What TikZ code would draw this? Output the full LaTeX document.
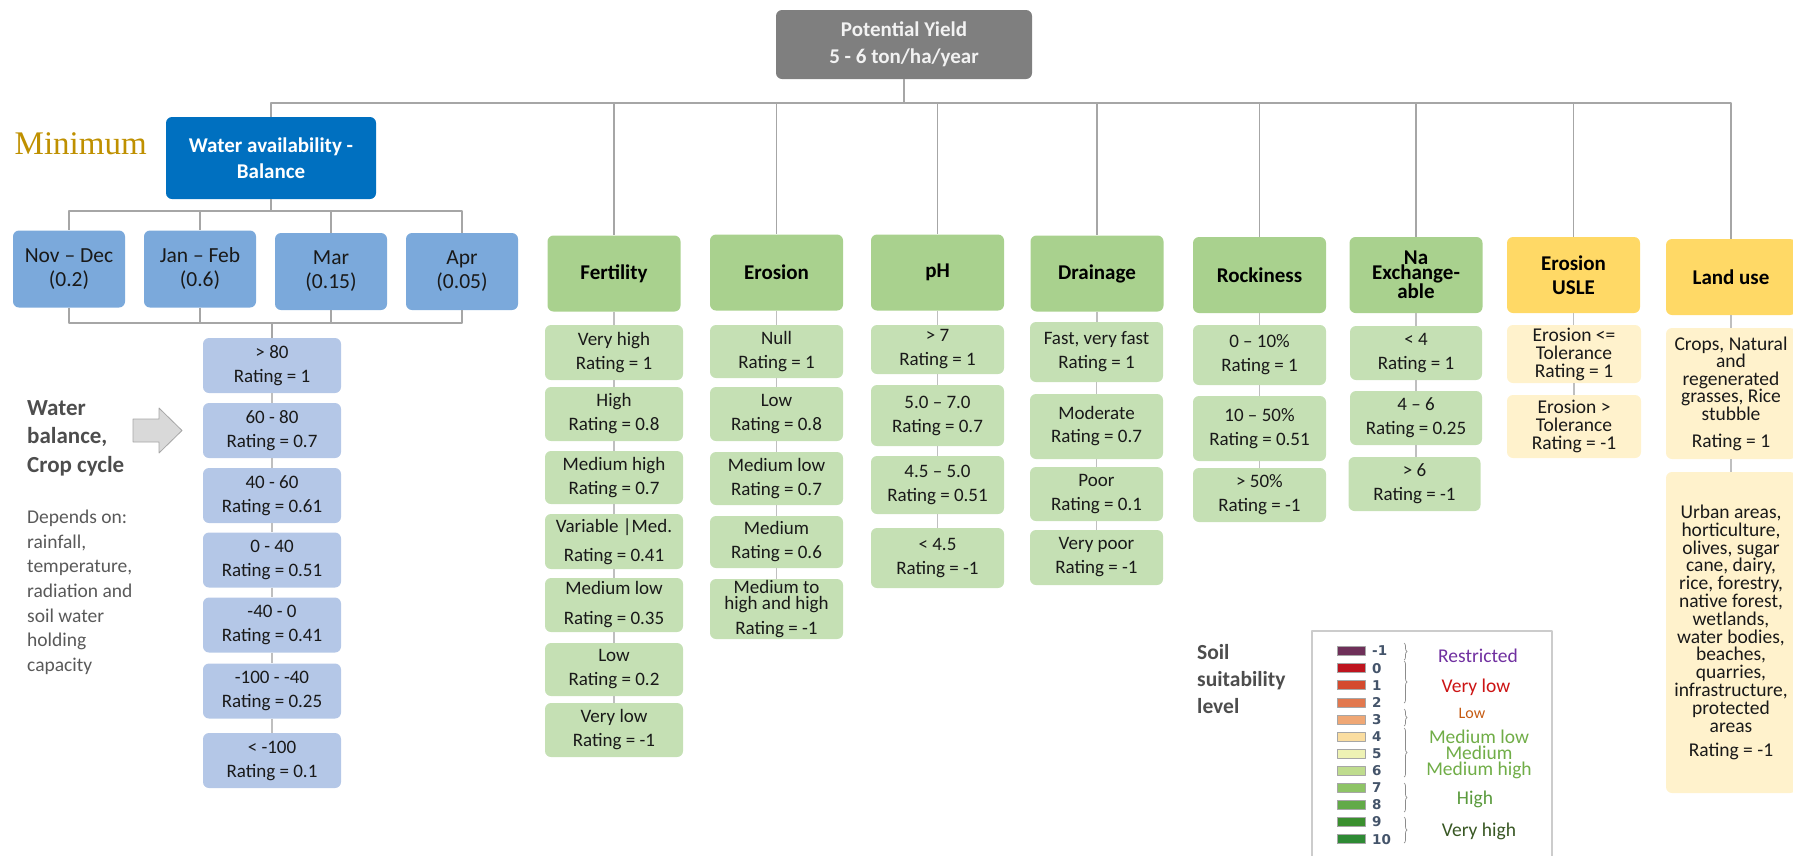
\documentclass[tikz,border=0pt]{standalone}
\usepackage{fontspec}
\setmainfont{Carlito}
\newfontfamily\minfont{Liberation Serif}
\newfontfamily\numfont{DejaVu Sans}
\usetikzlibrary{decorations.pathreplacing}

\definecolor{yieldgray}{HTML}{7F7F7F}
\definecolor{waterblue}{HTML}{0070C0}
\definecolor{monthblue}{HTML}{7BA9DB}
\definecolor{ratblue}{HTML}{B4C7E7}
\definecolor{hdrgreen}{HTML}{A9D18E}
\definecolor{valgreen}{HTML}{C5E0B4}
\definecolor{hdryellow}{HTML}{FFD966}
\definecolor{valyellow}{HTML}{FFF2CC}
\definecolor{linegray}{HTML}{A6A6A6}
\definecolor{tickgray}{HTML}{BFBFBF}
\definecolor{mingold}{HTML}{BF9000}
\definecolor{notegray}{HTML}{595959}
\definecolor{darknote}{HTML}{4D4D4D}
\definecolor{numblue}{HTML}{44546A}
\definecolor{restrictpurple}{HTML}{7030A0}
\definecolor{verylowred}{HTML}{CC1414}
\definecolor{loworange}{HTML}{C55A11}
\definecolor{medgreen}{HTML}{70AD47}
\definecolor{highgreen}{HTML}{5A9A3C}
\definecolor{vhighgreen}{HTML}{385723}
% suitability levels -1 ... 10
\definecolor{lv0}{HTML}{6E3059}
\definecolor{lv1}{HTML}{BE141E}
\definecolor{lv2}{HTML}{D44A2E}
\definecolor{lv3}{HTML}{E2784E}
\definecolor{lv4}{HTML}{EFA775}
\definecolor{lv5}{HTML}{FADDA0}
\definecolor{lv6}{HTML}{EEF2B4}
\definecolor{lv7}{HTML}{BFDC8E}
\definecolor{lv8}{HTML}{8EC466}
\definecolor{lv9}{HTML}{62AA48}
\definecolor{lv10}{HTML}{3A8F2E}
\definecolor{lv11}{HTML}{2E8A34}

\tikzset{
  cbox/.style={rounded corners=6pt, inner sep=0pt, align=center, minimum width=133pt},
  hdr/.style={cbox, fill=hdrgreen, minimum height=76pt, font=\fontsize{21}{24}\selectfont\bfseries},
  hdry/.style={hdr, fill=hdryellow},
  val/.style={cbox, fill=valgreen, minimum height=#1pt, text=black!90, font=\fontsize{19}{24}\selectfont},
  val/.default=55,
  valy/.style={val=#1, fill=valyellow},
  rat/.style={val, fill=ratblue, minimum width=138pt},
  monthbox/.style={cbox, fill=monthblue, minimum width=112pt, minimum height=77pt, text=black!90, font=\fontsize{21.5}{24}\selectfont},
  conn/.style={draw=linegray, line width=1.5pt},
  link/.style={draw=tickgray, line width=1.5pt},
  swatch/.style={minimum width=28pt, minimum height=9pt, inner sep=0pt, draw=black!35, line width=0.6pt},
  lvlnum/.style={inner sep=0pt, text=numblue, font=\numfont\bfseries\fontsize{13.5}{13.5}\selectfont},
  lvltxt/.style={inner sep=0pt, align=center, font=\fontsize{19.5}{16}\selectfont},
  bracestyle/.style={decorate, decoration={brace, amplitude=3pt}, draw=black!45, line width=0.7pt}
}

\begin{document}
\begin{tikzpicture}[x=1pt, y=-1pt, line join=round]
\useasboundingbox (0,0) rectangle (1793,855);
\clip (0,0) rectangle (1793,855);
\coordinate (bus) at (0,103);
\coordinate (wbus) at (0,211);
\coordinate (lbus) at (0,323);

% top of the tree
\node[cbox, fill=yieldgray, minimum width=256pt, minimum height=69pt, text=white!95!black, font=\fontsize{21}{27}\selectfont\bfseries] (yield) at (904,44.5) {Potential Yield\\5 - 6 ton/ha/year};
\node[cbox, fill=waterblue, minimum width=210pt, minimum height=82pt, text=white, font=\fontsize{21}{26}\selectfont\bfseries] (water) at (271,158) {Water availability -\\Balance};
\node[anchor=base west, inner sep=0pt, text=mingold, font=\minfont\fontsize{33}{33}\selectfont] (minlbl) at (14.5,154) {Minimum};

% months
\node[monthbox] (nov) at (69,269) {Nov – Dec\\(0.2)};
\node[monthbox] (jan) at (200,269) {Jan – Feb\\(0.6)};
\node[monthbox] (mar) at (331,271.5) {Mar\\(0.15)};
\node[monthbox] (apr) at (462,271.5) {Apr\\(0.05)};

% water balance ratings
\node[rat] (r1) at (272,365.5) {> 80\\Rating = 1};
\node[rat] (r2) at (272,430.5) {60 - 80\\Rating = 0.7};
\node[rat] (r3) at (272,495.5) {40 - 60\\Rating = 0.61};
\node[rat] (r4) at (272,560) {0 - 40\\Rating = 0.51};
\node[rat] (r5) at (272,625) {-40 - 0\\Rating = 0.41};
\node[rat] (r6) at (272,691) {-100 - -40\\Rating = 0.25};
\node[rat] (r7) at (272,760.5) {< -100\\Rating = 0.1};

\node[anchor=north west, inner sep=0pt, align=left, text=darknote, font=\fontsize{23}{28.5}\selectfont\bfseries] (wbal) at (27,400) {Water\\balance,\\Crop cycle};
\node[anchor=north west, inner sep=0pt, align=left, text=notegray, font=\fontsize{19.5}{24.6}\selectfont] (dep) at (27,510) {Depends on:\\rainfall,\\temperature,\\radiation and\\soil water\\holding\\capacity};
\filldraw[fill=black!15, draw=black!35, line width=0.8pt] (133,419) -- (159,419) -- (159,408) -- (182,430.5) -- (159,453) -- (159,442) -- (133,442) -- cycle;

% criteria
\node[hdr] (fert) at (614,273.5) {Fertility};
\node[hdr] (eros) at (776.5,272.5) {Erosion};
\node[hdr] (ph) at (937.5,272.5) {pH};
\node[hdr] (drain) at (1097,273.5) {Drainage};
\node[hdr] (rock) at (1259.5,275) {Rockiness};
\node[hdr, font=\fontsize{21}{15}\selectfont\bfseries] (na) at (1416,275) {Na\\Exchange-\\able};
\node[hdry] (usle) at (1573.5,275) {Erosion\\USLE};
\node[hdry, minimum width=130pt] (land) at (1731,277) {Land use};

\node[val, minimum width=138pt] (f1) at (614,352.5) {Very high\\Rating = 1};
\node[val=54, minimum width=138pt] (f2) at (614,414) {High\\Rating = 0.8};
\node[val=53, minimum width=138pt] (f3) at (614,477.5) {Medium high\\Rating = 0.7};
\node[val, minimum width=138pt] (f4) at (614,541.5) {Variable |Med.\\[5pt]Rating = 0.41};
\node[val=54, minimum width=138pt] (f5) at (614,605) {Medium low\\[6pt]Rating = 0.35};
\node[val=53, minimum width=138pt] (f6) at (614,669.5) {Low\\Rating = 0.2};
\node[val=54, minimum width=138pt] (f7) at (614,730) {Very low\\Rating = -1};

\node[val=53] (e1) at (776.5,351.5) {Null\\Rating = 1};
\node[val=54] (e2) at (776.5,414) {Low\\Rating = 0.8};
\node[val=53] (e3) at (776.5,478.5) {Medium low\\Rating = 0.7};
\node[val=52] (e4) at (776.5,542) {Medium\\Rating = 0.6};
\node[val=60, font=\fontsize{19}{16}\selectfont] (e5) at (776.5,609) {Medium to\\high and high\\[8pt]Rating = -1};

\node[val=49] (p1) at (937.5,349.5) {> 7\\Rating = 1};
\node[val=61] (p2) at (937.5,415.5) {5.0 – 7.0\\Rating = 0.7};
\node[val=58] (p3) at (937.5,485) {4.5 – 5.0\\Rating = 0.51};
\node[val=60] (p4) at (937.5,558) {< 4.5\\Rating = -1};

\node[val=60] (d1) at (1096.5,352) {Fast, very fast\\Rating = 1};
\node[val=65, font=\fontsize{19}{23}\selectfont] (d2) at (1096.5,426.5) {Moderate\\Rating = 0.7};
\node[val=54] (d3) at (1096.5,494) {Poor\\Rating = 0.1};
\node[val=55] (d4) at (1096.5,557.5) {Very poor\\Rating = -1};

\node[val=60] (k1) at (1259.5,355) {0 – 10\%\\Rating = 1};
\node[val=65] (k2) at (1259.5,428.5) {10 – 50\%\\Rating = 0.51};
\node[val=54] (k3) at (1259.5,495) {> 50\%\\Rating = -1};

\node[val=54, minimum width=132pt] (n1) at (1416,353) {< 4\\Rating = 1};
\node[val=54, minimum width=132pt] (n2) at (1416,418) {4 – 6\\Rating = 0.25};
\node[val=54, minimum width=132pt] (n3) at (1414.5,484) {> 6\\Rating = -1};

\node[valy=58, minimum width=134pt, font=\fontsize{19.5}{18}\selectfont] (u1) at (1574,354) {Erosion <=\\Tolerance\\Rating = 1};
\node[valy=63, minimum width=134pt, font=\fontsize{19.5}{18}\selectfont] (u2) at (1574,426.5) {Erosion >\\Tolerance\\Rating = -1};

\node[valy=131, minimum width=130pt, font=\fontsize{19.5}{17.5}\selectfont] (l1) at (1731,393.5) {Crops, Natural\\and\\regenerated\\grasses, Rice\\stubble\\[9.5pt]Rating = 1};
\node[valy=321, minimum width=130pt, font=\fontsize{19.5}{17.8}\selectfont] (l2) at (1731,632.5) {Urban areas,\\horticulture,\\olives, sugar\\cane, dairy,\\rice, forestry,\\native forest,\\wetlands,\\water bodies,\\beaches,\\quarries,\\infrastructure,\\protected\\areas\\[7pt]Rating = -1};

% connectors
\foreach \c in {water,fert,eros,ph,drain,rock,na,usle,land}
  \draw[conn] (yield.south) -- (yield.south |- bus) -| (\c.north);
\foreach \m in {nov,jan,mar,apr} {
  \draw[conn] (water.south) -- (water.south |- wbus) -| (\m.north);
  \draw[conn] (\m.south) |- (r1.north |- lbus) -- (r1.north);
}
\foreach \a/\b in {r1/r2,r2/r3,r3/r4,r4/r5,r5/r6,r6/r7,
    fert/f1,f1/f2,f2/f3,f3/f4,f4/f5,f5/f6,f6/f7,
    eros/e1,e1/e2,e2/e3,e3/e4,e4/e5,
    ph/p1,p1/p2,p2/p3,p3/p4,
    drain/d1,d1/d2,d2/d3,d3/d4,
    rock/k1,k1/k2,k2/k3,
    na/n1,n1/n2,n2/n3,
    usle/u1,u1/u2,
    land/l1,l1/l2}
  \draw[link] (\a.south) -- (\a.south |- \b.north);

% legend
\node[anchor=north west, inner sep=0pt, align=left, text=darknote, font=\fontsize{21.5}{27}\selectfont\bfseries] (soil) at (1197,644) {Soil\\suitability\\level};
\draw[draw=black!20, line width=1.5pt] (1312,860) |- (1552,631) -- (1552,860);
\foreach \v [count=\i from 0] in {-1,0,1,2,3,4,5,6,7,8,9,10} {
  \node[swatch, fill=lv\i] (sw\i) at (1351,{651+17.1*\i}) {};
  \node[lvlnum, anchor=west] (num\i) at (1372,{651+17.1*\i}) {\v};
}
\foreach \a/\b in {643/660, 661/703, 709/726, 728/777, 783/812, 817/843}
  \draw[bracestyle] (1404,\a) -- (1404,\b);
\node[lvltxt, text=restrictpurple] (restr) at (1478,656) {Restricted};
\node[lvltxt, text=verylowred] (vlow) at (1476,687) {Very low};
\node[lvltxt, text=loworange, font=\fontsize{16}{16}\selectfont] (low) at (1472,713) {Low};
\node[lvltxt, text=medgreen] (med) at (1479,754) {Medium low\\Medium\\Medium high};
\node[lvltxt, text=highgreen] (high) at (1475,799) {High};
\node[lvltxt, text=vhighgreen] (vhigh) at (1479,831) {Very high};
\end{tikzpicture}
\end{document}
